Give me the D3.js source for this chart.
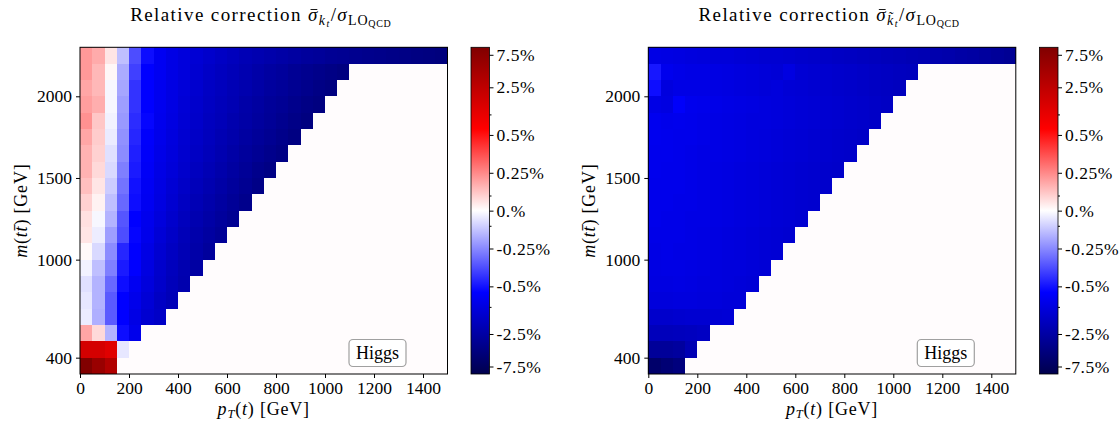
<!DOCTYPE html>
<html><head><meta charset="utf-8">
<script src="https://cdn.jsdelivr.net/npm/d3@7"></script>
<style>
html,body{margin:0;padding:0;background:#fff;}
svg{display:block;}
text{font-family:"Liberation Serif","DejaVu Serif",serif;fill:#000;}
</style></head>
<body>
<svg id="chart" width="1120" height="421"></svg>
<script>
// ---------- data ----------
const ptEdges = [0,50,100,150,200,250,300,350,400,450,500,550,600,650,700,750,800,850,900,950,1000,1050,1100,1150,1200,1250,1300,1350,1400,1450,1500];
const massEdges = [300,400,500,600,700,800,900,1000,1100,1200,1300,1400,1500,1600,1700,1800,1900,2000,2100,2200,2300];
const xTickValues = [0,200,400,600,800,1000,1200,1400];
const yTickValues = [400,1000,1500,2000];
const cbarTickValues = [7.5,2.5,0.5,0.25,0,-0.25,-0.5,-2.5,-7.5];
const cbarTickLabels = ["7.5%","2.5%","0.5%","0.25%","0.%","-0.25%","-0.5%","-2.5%","-7.5%"];
const cbarMinorValues = [1,0.1,-0.1,-1];

// relative correction in %, one array per m(tt) bin (bottom to top), one value per pT bin
const corrKt = [
 [9.4,5.6,3.3],
 [1.55,1.55,1.2,-0.05],
 [0.19,0.08,-0.16,-0.53,-0.84],
 [-0.04,-0.17,-0.35,-0.61,-0.91,-1.24,-1.46],
 [-0.05,-0.16,-0.35,-0.61,-0.84,-1.15,-1.52,-1.85],
 [-0.065,-0.16,-0.32,-0.53,-0.75,-1.06,-1.4,-1.77,-2.16],
 [-0.027,-0.135,-0.27,-0.485,-0.61,-0.98,-1.35,-1.71,-2.08,-2.53],
 [0.01,-0.081,-0.243,-0.458,-0.61,-0.91,-1.24,-1.58,-1.92,-2.34,-2.85],
 [0.054,-0.038,-0.205,-0.377,-0.58,-0.84,-1.15,-1.46,-1.85,-2.25,-2.63,-3.08],
 [0.065,-0.016,-0.16,-0.36,-0.61,-0.81,-1.06,-1.35,-1.71,-2.08,-2.43,-2.85,-3.33],
 [0.097,0.027,-0.135,-0.32,-0.53,-0.75,-0.98,-1.24,-1.58,-1.92,-2.25,-2.63,-3.08,-3.61],
 [0.135,0.054,-0.108,-0.296,-0.51,-0.72,-0.94,-1.2,-1.46,-1.77,-2.08,-2.43,-2.85,-3.33,-3.91],
 [0.162,0.081,-0.081,-0.27,-0.485,-0.69,-0.91,-1.11,-1.35,-1.64,-1.92,-2.25,-2.63,-3.08,-3.61,-4.06],
 [0.162,0.097,-0.065,-0.243,-0.474,-0.66,-0.87,-1.06,-1.29,-1.52,-1.77,-2.08,-2.43,-2.85,-3.21,-3.61,-4.06],
 [0.189,0.108,-0.043,-0.232,-0.458,-0.64,-0.84,-1.02,-1.24,-1.46,-1.71,-2.0,-2.25,-2.63,-2.96,-3.33,-3.75,-4.23],
 [0.232,0.119,-0.027,-0.216,-0.447,-0.58,-0.81,-0.98,-1.2,-1.4,-1.64,-1.85,-2.16,-2.43,-2.74,-3.08,-3.47,-3.91,-4.4],
 [0.205,0.172,-0.016,-0.205,-0.431,-0.61,-0.78,-0.94,-1.15,-1.35,-1.58,-1.77,-2.0,-2.34,-2.63,-2.96,-3.21,-3.61,-4.06,-4.4],
 [0.189,0.151,-0.016,-0.189,-0.431,-0.61,-0.78,-0.94,-1.11,-1.29,-1.52,-1.71,-1.92,-2.16,-2.43,-2.74,-2.96,-3.33,-3.61,-4.06,-4.4],
 [0.216,0.151,0.016,-0.178,-0.404,-0.61,-0.75,-0.91,-1.06,-1.24,-1.46,-1.64,-1.85,-2.08,-2.34,-2.63,-2.85,-3.21,-3.47,-3.75,-4.06,-4.4],
 [0.216,0.178,0.054,-0.135,-0.377,-0.53,-0.75,-0.91,-1.06,-1.2,-1.35,-1.52,-1.71,-1.92,-2.08,-2.25,-2.43,-2.63,-2.85,-2.96,-3.21,-3.33,-3.47,-3.61,-3.75,-3.91,-4.06,-4.23,-4.4,-4.57]
];
const corrKtTilde = [
 [-6.2,-5.3,-4.6],
 [-2.96,-2.96,-2.74,-2.0],
 [-1.75,-1.75,-1.7,-1.64,-1.55],
 [-1.35,-1.35,-1.29,-1.24,-1.24,-1.2,-1.15],
 [-1.06,-1.06,-1.02,-1.02,-1.06,-1.06,-1.11,-1.11],
 [-0.98,-0.98,-0.94,-0.98,-1.02,-1.02,-1.06,-1.11,-1.15],
 [-0.94,-0.91,-0.91,-0.94,-0.98,-1.02,-1.06,-1.06,-1.11,-1.15],
 [-0.91,-0.87,-0.91,-0.91,-0.94,-0.98,-1.02,-1.06,-1.11,-1.15,-1.2],
 [-0.87,-0.87,-0.87,-0.91,-0.94,-0.98,-1.02,-1.06,-1.11,-1.15,-1.2,-1.24],
 [-0.84,-0.87,-0.87,-0.91,-0.91,-0.94,-0.98,-1.02,-1.06,-1.11,-1.15,-1.2,-1.24],
 [-0.84,-0.84,-0.87,-0.87,-0.91,-0.94,-0.98,-1.02,-1.06,-1.11,-1.15,-1.2,-1.24,-1.29],
 [-0.84,-0.84,-0.84,-0.87,-0.91,-0.94,-0.98,-1.02,-1.06,-1.11,-1.15,-1.2,-1.24,-1.29,-1.35],
 [-0.81,-0.84,-0.84,-0.87,-0.91,-0.94,-0.98,-1.02,-1.06,-1.11,-1.15,-1.2,-1.24,-1.29,-1.35,-1.4],
 [-0.81,-0.81,-0.84,-0.87,-0.91,-0.91,-0.94,-0.98,-1.02,-1.06,-1.11,-1.15,-1.2,-1.24,-1.29,-1.35,-1.4],
 [-0.78,-0.81,-0.84,-0.84,-0.87,-0.91,-0.94,-0.98,-1.02,-1.06,-1.11,-1.15,-1.2,-1.24,-1.29,-1.35,-1.4,-1.46],
 [-0.78,-0.84,-0.81,-0.84,-0.87,-0.91,-0.94,-0.98,-1.02,-1.02,-1.06,-1.11,-1.15,-1.2,-1.24,-1.29,-1.35,-1.4,-1.46],
 [-0.91,-0.98,-0.66,-0.81,-0.84,-0.87,-0.91,-0.94,-0.98,-1.02,-1.06,-1.11,-1.15,-1.2,-1.24,-1.29,-1.35,-1.4,-1.46,-1.52],
 [-0.53,-1.02,-0.91,-0.91,-0.91,-0.94,-0.98,-1.02,-1.06,-1.11,-1.06,-1.15,-1.2,-1.24,-1.29,-1.35,-1.4,-1.46,-1.52,-1.58,-1.64],
 [-0.49,-0.81,-0.87,-0.91,-0.91,-0.94,-0.98,-1.02,-1.06,-1.11,-1.15,-0.98,-1.2,-1.24,-1.29,-1.35,-1.4,-1.46,-1.52,-1.58,-1.64,-1.71],
 [-0.91,-0.94,-0.98,-1.02,-1.06,-1.11,-1.11,-1.15,-1.2,-1.24,-1.24,-1.29,-1.35,-1.4,-1.46,-1.52,-1.58,-1.64,-1.71,-1.77,-1.85,-1.92,-2.0,-2.16,-2.25,-2.43,-2.53,-2.74,-2.96,-3.21]
];

// ---------- colour normalisation (symmetric log, linear within ±0.5%) ----------
const LINTHRESH = 0.5, LINSCALE = 1/(1-1/10), VMAX = 9.66;
function symlog(v){const a=Math.abs(v);return a<=LINTHRESH? v/LINTHRESH*LINSCALE : Math.sign(v)*(LINSCALE+Math.log10(a/LINTHRESH));}
const norm = d3.scaleLinear().domain([-symlog(VMAX), symlog(VMAX)]).range([0,1]).clamp(true);
const seismic = d3.scaleLinear().domain([0,0.25,0.5,0.75,1])
  .range(["#00004d","#0000ff","#ffffff","#ff0000","#800000"]).clamp(true);
const colorOf = v => seismic(norm(symlog(v)));

const svg = d3.select("#chart");
const defs = svg.append("defs");
const Y0 = 47.3, Y1 = 374;
const FS = 17.5;

function panel(opt){
  const x = d3.scaleLinear().domain([ptEdges[0], ptEdges[ptEdges.length-1]]).range([opt.x0, opt.x0+367.5]);
  const y = d3.scaleLinear().domain([massEdges[0], massEdges[massEdges.length-1]]).range([Y1, Y0]);
  const xr = v => Math.round(x(v)), yr = v => Math.round(y(v));
  const g = svg.append("g");
  // empty (zero) background
  g.append("rect").attr("x",x.range()[0]).attr("y",Y0).attr("width",x.range()[1]-x.range()[0]).attr("height",Y1-Y0)
    .attr("fill", "#fffcfd");
  const cells = [];
  opt.data.forEach((row,k)=>row.forEach((v,c)=>cells.push({k,c,v})));
  g.append("g").attr("shape-rendering","crispEdges").selectAll("rect").data(cells).join("rect")
    .attr("x", d=>xr(ptEdges[d.c]))
    .attr("y", d=>yr(massEdges[d.k+1]))
    .attr("width", d=>xr(ptEdges[d.c+1])-xr(ptEdges[d.c]))
    .attr("height", d=>yr(massEdges[d.k])-yr(massEdges[d.k+1]))
    .attr("fill", d=>colorOf(d.v));
  // frame
  g.append("rect").attr("x",x.range()[0]).attr("y",Y0).attr("width",x.range()[1]-x.range()[0]).attr("height",Y1-Y0)
    .attr("fill","none").attr("stroke","#000").attr("stroke-width",1);
  // axes
  const ax = g.append("g").attr("transform",`translate(0,${Y1})`)
    .call(d3.axisBottom(x).tickValues(xTickValues).tickSize(4).tickPadding(4).tickFormat(d3.format("d")));
  const ay = g.append("g").attr("transform",`translate(${x.range()[0]},0)`)
    .call(d3.axisLeft(y).tickValues(yTickValues).tickSize(4).tickPadding(4).tickFormat(d3.format("d")));
  [ax,ay].forEach(a=>{a.select(".domain").remove();
    a.selectAll("text").style("font-size",FS+"px").style("font-family","Liberation Serif, serif");
    a.selectAll("line").attr("stroke","#000");});
  // title
  const cx = (x.range()[0]+x.range()[1])/2;
  const t = g.append("text").attr("x",cx-3).attr("y",21).attr("text-anchor","middle")
    .style("font-size","19px").style("letter-spacing","1.4px");
  t.append("tspan").text("Relative correction ");
  t.append("tspan").attr("font-style","italic").text("σ");
  t.append("tspan").attr("font-style","italic").style("font-size","14px").attr("dy",3.5).text(opt.sub);
  t.append("tspan").attr("font-style","italic").style("font-size","10px").attr("dy",2).text("t");
  t.append("tspan").attr("dy",-5.5).text("/");
  t.append("tspan").attr("font-style","italic").text("σ");
  t.append("tspan").style("font-size","14px").style("letter-spacing","0.8px").attr("dy",3.5).text("LO");
  t.append("tspan").style("font-size","10px").style("letter-spacing","0.6px").attr("dy",2.5).text("QCD");
  // bar over the first sigma
  const tn = t.node();
  const s0 = tn.getStartPositionOfChar(20), s1 = tn.getEndPositionOfChar(20);
  g.append("line").attr("x1",s0.x+2.5).attr("x2",s1.x-1.5).attr("y1",s0.y-11.5).attr("y2",s0.y-11.5)
    .attr("stroke","#000").attr("stroke-width",0.9);
  // x label
  const xl = g.append("text").attr("x",cx).attr("y",415).attr("text-anchor","middle")
    .style("font-size","18px").style("letter-spacing","0.8px");
  xl.append("tspan").attr("font-style","italic").text("p");
  xl.append("tspan").attr("font-style","italic").style("font-size","12.5px").attr("dy",3).text("T");
  xl.append("tspan").attr("dy",-3).text("(");
  xl.append("tspan").attr("font-style","italic").text("t");
  xl.append("tspan").text(") [GeV]");
  // y label
  const yl = g.append("text").attr("transform",`translate(${x.range()[0]-53},${(Y0+Y1)/2}) rotate(-90)`)
    .attr("text-anchor","middle").style("font-size","18px").style("letter-spacing","0.8px");
  yl.append("tspan").attr("font-style","italic").text("m");
  yl.append("tspan").text("(");
  yl.append("tspan").attr("font-style","italic").text("tt\u0304");
  yl.append("tspan").text(") [GeV]");
  // Higgs box
  const bx = x.range()[0]+269;
  g.append("rect").attr("x",bx).attr("y",339.5).attr("width",57).attr("height",27).attr("rx",4)
    .attr("fill","#fff").attr("stroke","#a0a0a0").attr("stroke-width",1.2);
  g.append("text").attr("x",bx+28.5).attr("y",358.5).attr("text-anchor","middle").style("font-size","18px").text("Higgs");

  // colorbar
  const cbx = opt.cb, cbw = 18.5;
  const gid = "grad"+opt.id;
  const grad = defs.append("linearGradient").attr("id",gid).attr("x1",0).attr("y1",1).attr("x2",0).attr("y2",0);
  seismic.domain().forEach(s=>grad.append("stop").attr("offset",s).attr("stop-color",seismic(s)));
  g.append("rect").attr("x",cbx).attr("y",Y0).attr("width",cbw).attr("height",Y1-Y0).attr("fill",`url(#${gid})`);
  g.append("rect").attr("x",cbx).attr("y",Y0).attr("width",cbw).attr("height",Y1-Y0).attr("fill","none")
    .attr("stroke","#000").attr("stroke-width",0.8);
  const cy = d3.scaleLinear().domain([0,1]).range([Y1,Y0]);
  const cax = g.append("g").attr("transform",`translate(${cbx+cbw},0)`)
    .call(d3.axisRight(cy).tickValues(cbarTickValues.map(v=>norm(symlog(v)))).tickSize(4).tickPadding(3)
      .tickFormat((d,i)=>cbarTickLabels[i]));
  cax.select(".domain").remove();
  cax.selectAll("text").style("font-size",FS+"px").style("font-family","Liberation Serif, serif").style("letter-spacing","0.5px");
  cax.selectAll("line").attr("stroke","#000");
  const cmin = g.append("g").attr("transform",`translate(${cbx+cbw},0)`)
    .call(d3.axisRight(cy).tickValues(cbarMinorValues.map(v=>norm(symlog(v)))).tickSize(2).tickFormat(""));
  cmin.select(".domain").remove();
  cmin.selectAll("line").attr("stroke","#000");
}

panel({id:1, x0:80, cb:471, data:corrKt, sub:"k"});
panel({id:2, x0:648.3, cb:1039.5, data:corrKtTilde, sub:"k\u0303"});
</script>
</body></html>
